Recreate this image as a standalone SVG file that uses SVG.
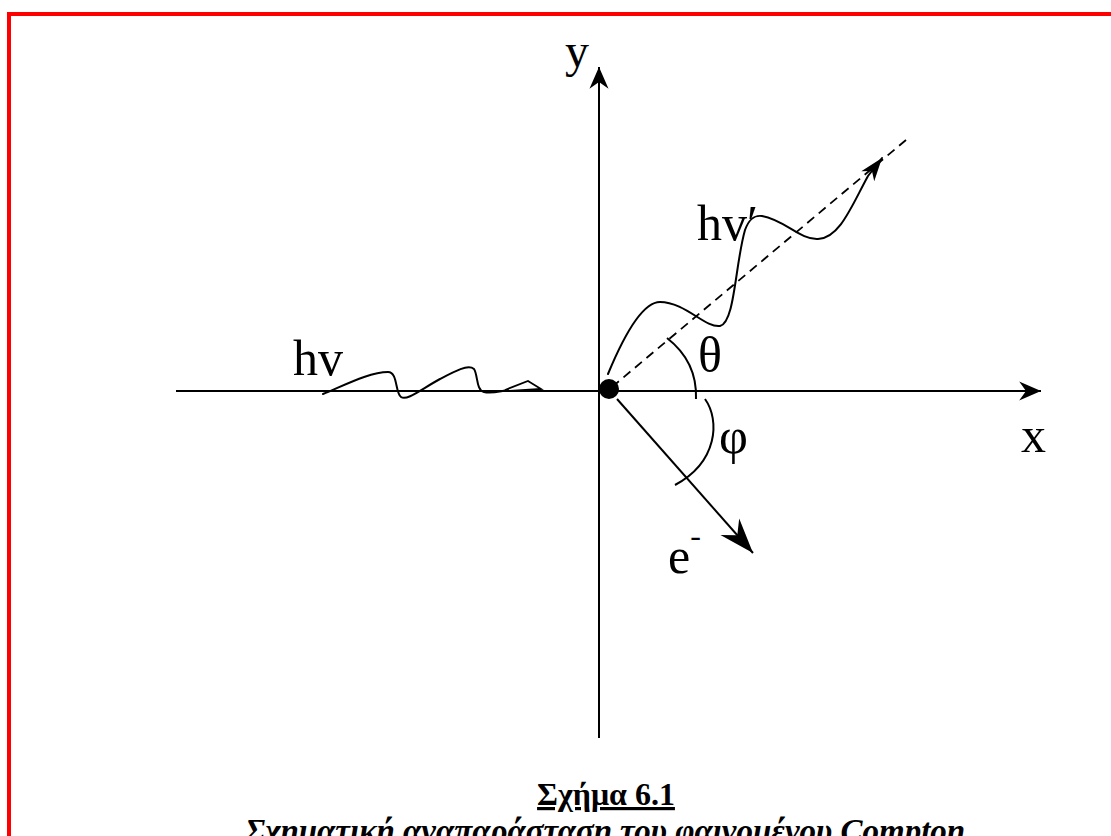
<svg xmlns="http://www.w3.org/2000/svg" width="1111" height="836" viewBox="0 0 1111 836">
<style>
.lbl{font-family:"Liberation Serif","DejaVu Serif","Times New Roman",serif;fill:#000}
.ln{stroke:#000;stroke-width:2;fill:none}
.wave{stroke:#000;stroke-width:2;fill:none;stroke-linecap:round}
.cap{font-family:"Liberation Serif","DejaVu Serif","Times New Roman",serif;font-weight:bold;fill:#000;text-anchor:middle}
</style>
<defs>
<marker id="ah" markerUnits="userSpaceOnUse" markerWidth="30" markerHeight="30" refX="0" refY="0" viewBox="-20 -10 22 20" orient="auto" overflow="visible">
<path d="M0,0 L-16,-7 L-11,0 L-16,7 Z" fill="#000"/>
</marker>
<marker id="ahBig" markerUnits="userSpaceOnUse" markerWidth="40" markerHeight="40" refX="0" refY="0" viewBox="-30 -12 32 24" orient="auto" overflow="visible">
<path d="M0,0 L-28,-10 L-19,0 L-28,10 Z" fill="#000"/>
</marker>
<marker id="ahSm" markerUnits="userSpaceOnUse" markerWidth="30" markerHeight="30" refX="0" refY="0" viewBox="-20 -10 22 20" orient="auto" overflow="visible">
<path d="M0,0 L-17,-6 L-12,0 L-17,6 Z" fill="#000"/>
</marker>
</defs>
<rect width="1111" height="836" fill="#fff"/>
<g id="border">
<rect x="9" y="14" width="1200" height="1000" fill="none" stroke="#ff0000" stroke-width="4"/>
</g>
<g id="connectors">
<line id="x-axis" class="ln" x1="176" y1="391" x2="1041" y2="391" marker-end="url(#ah)"/>
<line id="y-axis" class="ln" x1="599" y1="738" x2="599" y2="67" marker-end="url(#ah)"/>
<line id="scatter-dir" x1="612" y1="387" x2="906" y2="140" stroke="#000" stroke-width="1.8" stroke-dasharray="9,6"/>
<line id="electron" class="ln" x1="617" y1="399" x2="753" y2="553" marker-end="url(#ahBig)"/>
<path id="wave-in" class="wave" d="M323,394 C345,385 370,372 388,372 C398,372 395,393 401,397 C407,401 420,390 440,379 C455,371 468,364 474,369 C478,375 476,390 484,392 C492,394 500,391 508,390"/>
<path id="wave-in-head" d="M505,390 L528,381 L541,389 L510,391" fill="none" stroke="#000" stroke-width="1.8" stroke-linejoin="miter"/>
<path id="wave-out" class="wave" d="M608,374 C620,345 640,302 660,302 C685,302 705,328 720,326 C735,322 735,265 745,230 C749,219 754,215 762,216 C785,220 800,240 818,239 C840,238 852,205 868,176 L882,158" marker-end="url(#ahSm)"/>
<path id="arc-theta" class="ln" d="M667,338 C685,352 697,372 696,399"/>
<path id="arc-phi" class="ln" d="M705,399 C720,420 718,462 675,485"/>
</g>
<g id="dot"><circle cx="609" cy="389" r="10" fill="#000"/></g>
<g id="label-y"><text class="lbl" x="565" y="67" font-size="48">y</text></g>
<g id="label-x"><text class="lbl" x="1021" y="452" font-size="50">x</text></g>
<g id="label-hv"><text class="lbl" x="293" y="375" font-size="50">hv</text></g>
<g id="label-hv-prime"><text class="lbl" x="697" y="240" font-size="50">hv′</text></g>
<g id="label-theta"><text class="lbl" x="698" y="372" font-size="50">θ</text></g>
<g id="label-phi"><text class="lbl" x="719" y="453" font-size="50">φ</text></g>
<g id="label-e"><text class="lbl" x="668" y="573" font-size="50">e<tspan font-size="32" dy="-27">-</tspan></text></g>
<g id="caption">
<text class="cap" x="606" y="805" font-size="32" text-decoration="underline">Σχήμα 6.1</text>
<text class="cap" x="605" y="842" font-size="33" font-style="italic">Σχηματική αναπαράσταση του φαινομένου  Compton</text>
</g>
</svg>
